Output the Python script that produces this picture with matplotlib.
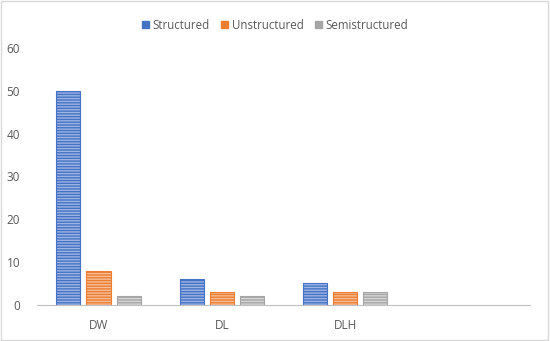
import matplotlib
matplotlib.use("Agg")
import matplotlib.pyplot as plt
import numpy as np
from matplotlib.patches import Rectangle, Patch

categories = ["DW", "DL", "DLH", ""]
series_names = ["Structured", "Unstructured", "Semistructured"]
structured = [50, 6, 5, 0]
unstructured = [8, 3, 3, 0]
semistructured = [2, 2, 3, 0]
y_ticks = [0, 10, 20, 30, 40, 50, 60]

colors = ["#4472C4", "#ED7D31", "#A5A5A5"]
stripe = ["#9DB5E3", "#F6BE98", "#D6D6D6"]

plt.rcParams['font.family'] = ['Open Sans', 'DejaVu Sans']

fig = plt.figure(figsize=(5.5, 3.41), dpi=100)
fig.patches.append(Rectangle((0.002, 0.003), 0.995, 0.994, transform=fig.transFigure,
                             fill=False, edgecolor="#D9D9D9", linewidth=1))
ax = fig.add_axes([0.067, 0.106, 0.897, 0.753])

x = np.arange(len(categories))
width = 0.195
step = 0.244
plt.rcParams['hatch.linewidth'] = 1.0
handles = []
for i, (vals, c, s, name) in enumerate(zip([structured, unstructured, semistructured], colors, stripe, series_names)):
    vals = np.array(vals, dtype=float)
    pos = x + (i - 1) * step
    keep = vals > 0
    ax.bar(pos[keep], vals[keep], width, color=c, edgecolor=s, hatch="------", linewidth=0)
    ax.bar(pos[keep], vals[keep], width, fill=False, edgecolor=c, linewidth=0.8)
    handles.append(Patch(facecolor=c, edgecolor=c, label=name))

ax.set_xlim(-0.5, 3.5)
ax.set_ylim(0, 60)
ax.set_yticks(y_ticks)
ax.set_xticks(x)
ax.set_xticklabels(categories)
for sp in ["top", "right", "left"]:
    ax.spines[sp].set_visible(False)
ax.spines["bottom"].set_color("#BFBFBF")
ax.tick_params(axis="both", length=0, labelsize=8.5, colors="#595959")
ax.tick_params(axis="x", pad=10)
ax.tick_params(axis="y", pad=12)

fig.legend(handles=handles, loc="upper center", bbox_to_anchor=(0.5, 0.975), ncol=3,
           frameon=False, fontsize=8.3, handlelength=0.6, handleheight=0.6,
           handletextpad=0.3, columnspacing=1.0, labelcolor="#595959")

fig.savefig("out.png", dpi=100)
